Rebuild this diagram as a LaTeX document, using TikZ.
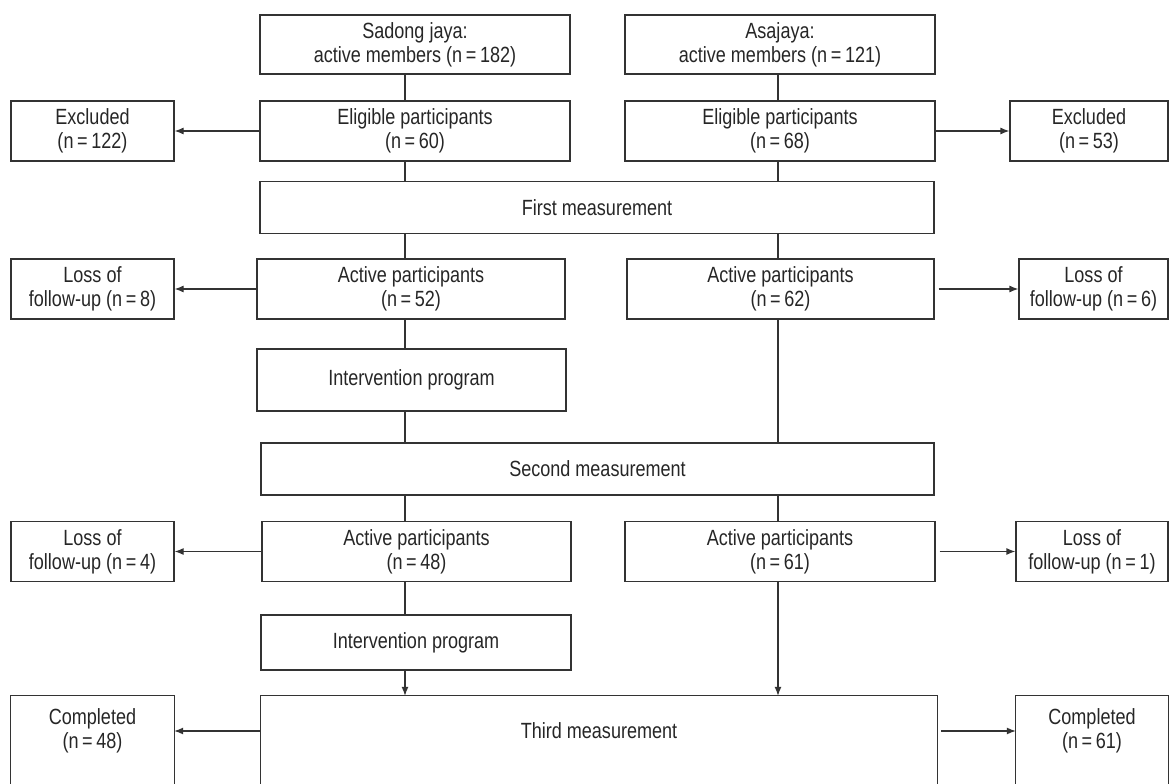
\documentclass[tikz,border=0pt]{standalone}
\usepackage{fontspec}
\setmainfont[FakeStretch=0.82]{Liberation Sans}
\usetikzlibrary{arrows.meta}

\begin{document}
\begin{tikzpicture}[x=1pt, y=-1pt,
    every node/.style={font=\fontsize{22}{24}\selectfont, text=black!85, align=center},
    box/.style={draw=black!80, line width=1.2pt, inner sep=0pt, minimum height=60pt},
    openbox/.style={inner sep=0pt, minimum height=70pt},
    link/.style={draw=black!80, line width=1.2pt},
    arr/.style={link, -{Latex[length=9pt, width=7pt]}}]
    \useasboundingbox (0,0) rectangle (1170,784);
    \clip (0,0) rectangle (1170,784);
    \coordinate (colL) at (405,0);
    \coordinate (colR) at (778,0);
    % groups
    \node[box, minimum width=310pt, minimum height=59pt] (sadong) at (415,44.5) {Sadong jaya:\\active members (n\,=\,182)};
    \node[box, minimum width=310pt, minimum height=59pt] (asajaya) at (780,44.5) {Asajaya:\\active members (n\,=\,121)};
    % eligibility
    \node[box, minimum width=163pt] (exclL) at (92.5,131) {Excluded\\(n\,=\,122)};
    \node[box, minimum width=310pt] (eligL) at (415,131) {Eligible participants\\(n\,=\,60)};
    \node[box, minimum width=310pt] (eligR) at (780,131) {Eligible participants\\(n\,=\,68)};
    \node[box, minimum width=158pt] (exclR) at (1089,131) {Excluded\\(n\,=\,53)};
    \node[box, minimum width=674pt, minimum height=52pt] (first) at (597,207.5) {First measurement};
    % after first measurement
    \node[box, minimum width=163pt] (lossL1) at (92.5,289) {Loss of\\follow-up (n\,=\,8)};
    \node[box, minimum width=308pt] (act52) at (411,289) {Active participants\\(n\,=\,52)};
    \node[box, minimum width=307pt] (act62) at (780.5,289) {Active participants\\(n\,=\,62)};
    \node[box, minimum width=149pt] (lossR1) at (1093.5,289) {Loss of\\follow-up (n\,=\,6)};
    \node[box, minimum width=309pt, minimum height=62pt] (interv1) at (411.5,380) {Intervention program};
    \node[box, minimum width=673pt, minimum height=52pt] (second) at (597.5,469) {Second measurement};
    % after second measurement
    \node[box, minimum width=163pt] (lossL2) at (92.5,551.5) {Loss of\\follow-up (n\,=\,4)};
    \node[box, minimum width=309pt] (act48) at (416.5,551.5) {Active participants\\(n\,=\,48)};
    \node[box, minimum width=310pt] (act61) at (780,551.5) {Active participants\\(n\,=\,61)};
    \node[box, minimum width=152pt] (lossR2) at (1092,551.5) {Loss of\\follow-up (n\,=\,1)};
    \node[box, minimum width=310pt, minimum height=55pt] (interv2) at (416,642.5) {Intervention program};
    % third measurement (cut at the bottom)
    \node[openbox, minimum width=163pt] (complL) at (92.5,731) {Completed\\(n\,=\,48)};
    \node[openbox, minimum width=676pt] (third) at (599,731) {Third measurement};
    \node[openbox, minimum width=152pt] (complR) at (1092,731) {Completed\\(n\,=\,61)};
    \foreach \b in {complL, third, complR}
        \draw[link] ([yshift=-60pt]\b.south west) |- (\b.north east) -- ([yshift=-60pt]\b.south east);
    % vertical links
    \draw[link] (sadong.south -| colL) -- (eligL.north -| colL);
    \draw[link] (eligL.south -| colL) -- (first.north -| colL);
    \draw[link] (first.south -| colL) -- (act52.north -| colL);
    \draw[link] (act52.south -| colL) -- (interv1.north -| colL);
    \draw[link] (interv1.south -| colL) -- (second.north -| colL);
    \draw[link] (second.south -| colL) -- (act48.north -| colL);
    \draw[link] (act48.south -| colL) -- (interv2.north -| colL);
    \draw[arr] (interv2.south -| colL) -- (third.north -| colL);
    \draw[link] (asajaya.south -| colR) -- (eligR.north -| colR);
    \draw[link] (eligR.south -| colR) -- (first.north -| colR);
    \draw[link] (first.south -| colR) -- (act62.north -| colR);
    \draw[link] (act62.south -| colR) -- (second.north -| colR);
    \draw[link] (second.south -| colR) -- (act61.north -| colR);
    \draw[arr] (act61.south -| colR) -- (third.north -| colR);
    % side arrows
    \draw[arr] (eligL.west) -- (exclL.east);
    \draw[arr] (eligR.east) -- (exclR.west);
    \draw[arr] (act52.west) -- (lossL1.east);
    \draw[arr] ([xshift=4pt]act62.east) -- (lossR1.west);
    \draw[arr] (act48.west) -- (lossL2.east);
    \draw[arr] ([xshift=4pt]act61.east) -- (lossR2.west);
    \draw[arr] (third.west) -- (complL.east);
    \draw[arr] ([xshift=4pt]third.east) -- (complR.west);
\end{tikzpicture}
\end{document}
